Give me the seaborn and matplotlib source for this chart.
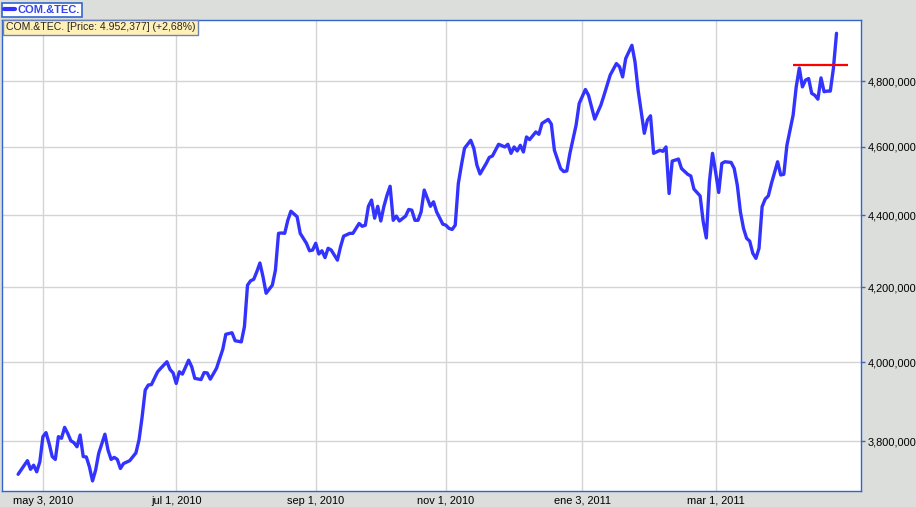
import pandas as pd
import seaborn as sns
import matplotlib.pyplot as plt
from matplotlib.lines import Line2D
from matplotlib.ticker import NullLocator

# Trading session number (0 = may 3, 2010) and close level (index points)
session = [-8, -5, -4, -3, -2, -1, 0, 1, 2, 3, 4, 5, 6, 7, 8, 9, 10, 11, 12, 13,
           14, 15, 16, 17, 18, 20, 21, 22, 23, 24, 25, 26, 28, 30, 31, 32, 33, 34, 35, 37,
           38, 40, 41, 42, 43, 44, 45, 47, 48, 49, 51, 52, 53, 54, 56, 58, 59, 61, 62, 64,
           65, 66, 67, 68, 69, 70, 71, 72, 74, 75, 76, 77, 78, 79, 80, 82, 83, 85, 86, 87,
           88, 89, 90, 91, 92, 93, 95, 96, 97, 99, 100, 101, 102, 103, 104, 105, 106, 107, 108, 109,
           110, 111, 112, 113, 114, 115, 117, 118, 119, 120, 121, 122, 123, 124, 125, 126, 127, 129, 130, 131,
           132, 133, 134, 135, 136, 138, 139, 140, 141, 143, 144, 145, 147, 149, 150, 151, 152, 153, 154, 155,
           156, 157, 159, 160, 161, 163, 164, 165, 167, 168, 169, 170, 172, 173, 175, 176, 178, 180, 181, 183,
           185, 186, 187, 188, 190, 191, 192, 194, 195, 196, 197, 199, 200, 201, 202, 203, 205, 206, 208, 209,
           210, 212, 213, 214, 215, 216, 217, 218, 219, 220, 222, 223, 224, 225, 226, 227, 228, 229, 230, 231,
           232, 233, 234, 235, 237, 238, 239, 240, 242, 243, 244, 245, 246, 247, 248, 249, 250, 251, 252, 253,
           254, 255, 256]
close = [3719, 3752, 3731, 3741, 3725, 3749, 3811, 3821, 3794, 3762, 3755, 3811, 3807, 3834, 3819, 3801, 3796, 3786, 3815, 3762,
         3761, 3737, 3703, 3729, 3770, 3817, 3778, 3755, 3760, 3755, 3733, 3745, 3752, 3771, 3803, 3860, 3928, 3941, 3942, 3975,
         3984, 4001, 3981, 3972, 3945, 3975, 3969, 4005, 3988, 3958, 3955, 3973, 3972, 3956, 3984, 4033, 4073, 4077, 4056, 4053,
         4093, 4205, 4217, 4221, 4242, 4266, 4228, 4183, 4205, 4246, 4349, 4350, 4349, 4386, 4412, 4396, 4349, 4321, 4300, 4302,
         4321, 4291, 4300, 4281, 4307, 4302, 4274, 4311, 4341, 4349, 4349, 4363, 4377, 4369, 4372, 4426, 4444, 4392, 4426, 4384,
         4426, 4458, 4484, 4386, 4398, 4384, 4398, 4417, 4415, 4386, 4386, 4410, 4473, 4449, 4426, 4439, 4410, 4375, 4372, 4363,
         4360, 4372, 4492, 4546, 4596, 4620, 4596, 4546, 4520, 4551, 4569, 4573, 4608, 4600, 4608, 4581, 4600, 4588, 4605, 4585,
         4630, 4622, 4645, 4638, 4671, 4683, 4669, 4590, 4536, 4527, 4529, 4581, 4666, 4732, 4775, 4757, 4684, 4727, 4757, 4820,
         4856, 4846, 4814, 4872, 4914, 4861, 4773, 4641, 4681, 4694, 4581, 4590, 4587, 4600, 4463, 4558, 4564, 4536, 4519, 4514,
         4476, 4456, 4382, 4336, 4497, 4581, 4526, 4466, 4551, 4556, 4554, 4536, 4487, 4410, 4363, 4335, 4327, 4293, 4279, 4307,
         4425, 4447, 4456, 4492, 4556, 4517, 4519, 4605, 4696, 4783, 4842, 4783, 4804, 4809, 4763, 4757, 4745, 4811, 4768, 4770,
         4770, 4841, 4952.377]

tick_sessions = [0, 43, 88, 130, 174, 217]
tick_labels = ['may 3, 2010', 'jul 1, 2010', 'sep 1, 2010', 'nov 1, 2010', 'ene 3, 2011', 'mar 1, 2011']
level_ticks = [3800, 4000, 4200, 4400, 4600, 4800]
level_labels = ['3,800,000', '4,000,000', '4,200,000', '4,400,000', '4,600,000', '4,800,000']

ref_level = 4851
ref_start, ref_end = 242, 259.6

name = 'COM.&TEC.'
last_price = '4.952,377'
change = '+2,68%'

blue = '#3333ff'
frame = '#3366cc'

sns.set_style('white')
plt.rcParams['font.family'] = ['Liberation Sans', 'DejaVu Sans']

df = pd.DataFrame({'session': session, 'close': close})

fig = plt.figure(figsize=(9.16, 5.07), dpi=100, facecolor='#dcdedb')
ax = fig.add_axes([2 / 916, 1 - 490.5 / 507, 859 / 916, 471 / 507])
ax.set_facecolor('white')

sns.lineplot(data=df, x='session', y='close', ax=ax, color=blue, lw=2.4,
             estimator=None, zorder=3)
ax.hlines(ref_level, ref_start, ref_end, color='red', lw=1.6, zorder=4)

ax.set_yscale('log')
ax.set_xlim(-13.2, 263.9)
ax.set_ylim(3680, 4997)
ax.set_yticks(level_ticks)
ax.set_yticklabels(level_labels)
ax.yaxis.set_minor_locator(NullLocator())
ax.set_xticks(tick_sessions)
ax.set_xticklabels(tick_labels)
ax.yaxis.tick_right()
ax.set_xlabel('')
ax.set_ylabel('')

ax.grid(True, color='#d4d4d4', lw=1, zorder=0)
for s in ax.spines.values():
    s.set_color(frame)
    s.set_linewidth(1)
ax.tick_params(axis='x', direction='out', length=3.5, width=1, color=frame,
               labelsize=7.9, pad=0.3, labelcolor='black')
ax.tick_params(axis='y', direction='out', length=3, width=1, color=frame,
               labelsize=7.9, pad=1.5, labelcolor='black', right=True, left=False)

handle = Line2D([], [], color=blue, lw=3)
leg = fig.legend([handle], [name], loc='upper left', bbox_to_anchor=(2 / 916, 1 - 2.5 / 507),
                 frameon=True, fancybox=False, edgecolor=frame, facecolor='white',
                 framealpha=1, handlelength=1.0, handletextpad=0.2, borderpad=0.2,
                 borderaxespad=0, prop={'weight': 'bold', 'size': 8}, labelcolor='#3344ee')
leg.get_frame().set_linewidth(1.2)

fig.text(6 / 916, 1 - 27.5 / 507, f'{name} [Price: {last_price}] ({change})',
         fontsize=7.6, va='center', ha='left', zorder=10,
         bbox=dict(boxstyle='square,pad=0.25', facecolor='#fff0b8', edgecolor='#6b82b8', lw=1))

plt.savefig('out.png', dpi=100, facecolor=fig.get_facecolor())
plt.close()
